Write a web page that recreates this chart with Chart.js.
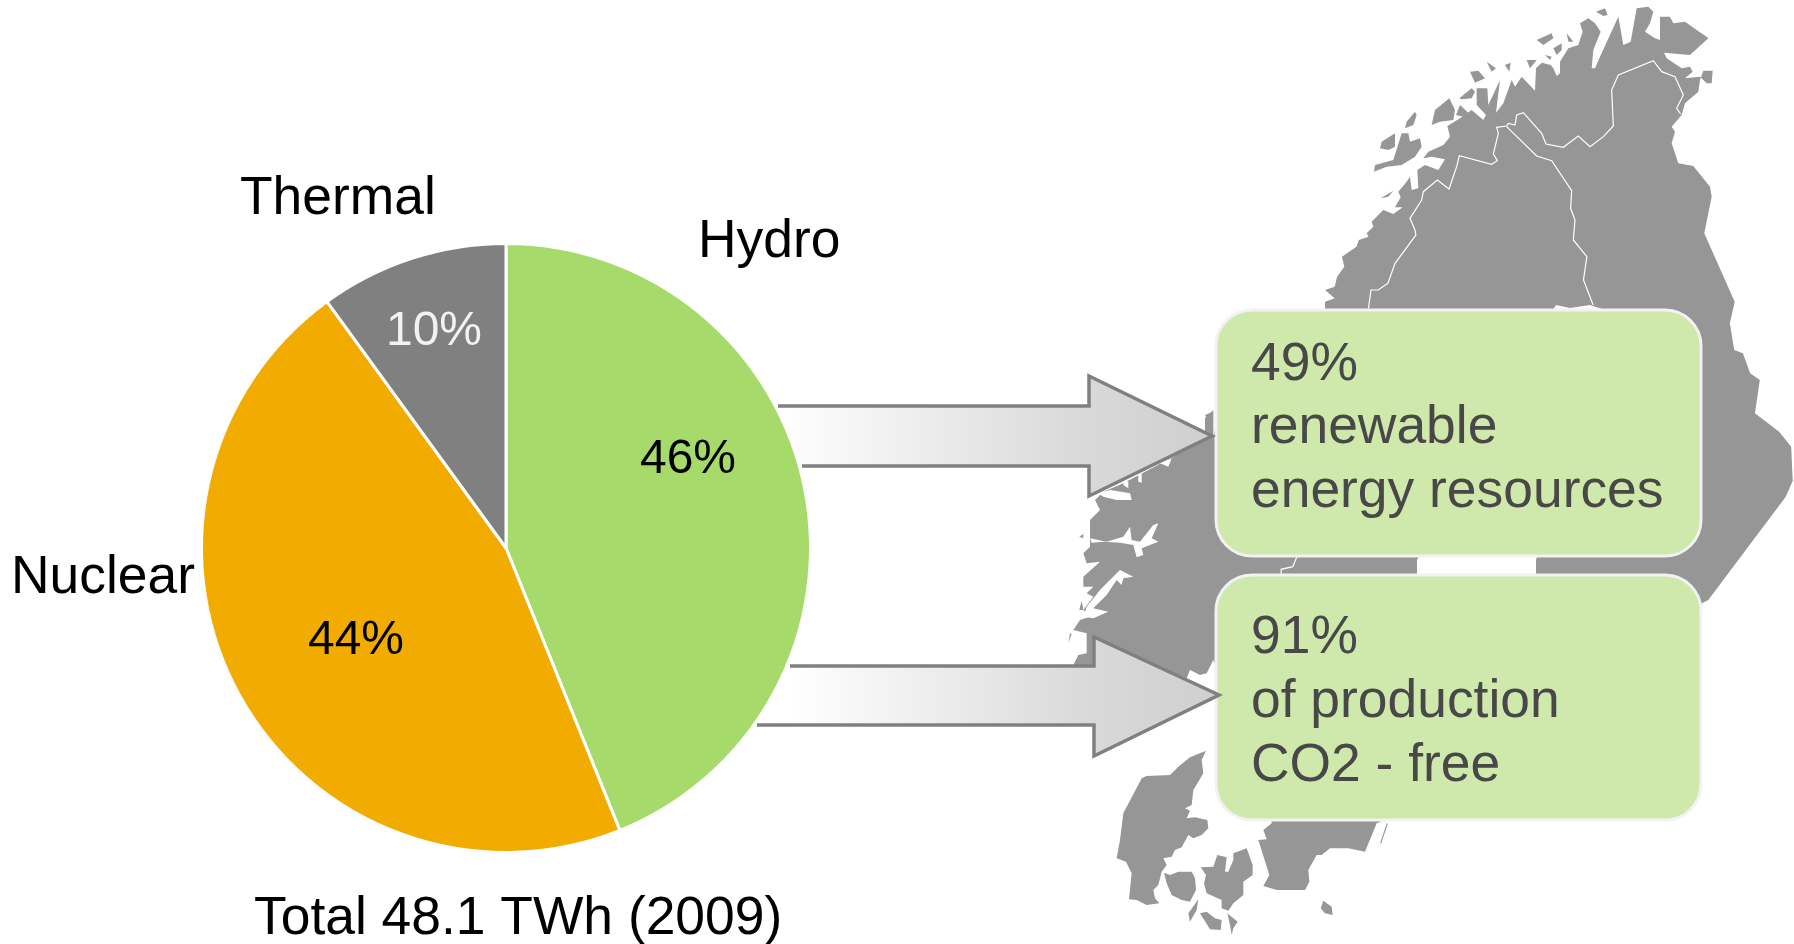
<!DOCTYPE html>
<html>
<head>
<meta charset="utf-8">
<title>Electricity production</title>
<script src="https://cdn.jsdelivr.net/npm/chart.js@4/dist/chart.umd.min.js"></script>
<style>
  html, body { margin: 0; padding: 0; background: #fff; overflow: hidden; }
  canvas { display: block; }
</style>
</head>
<body>
<canvas id="pieChart" width="1794" height="944"></canvas>
<script>
// Chart data
const categories = ['Hydro', 'Nuclear', 'Thermal'];
const sliceValues = [43.9, 46.1, 10]; // slice sizes as measured on the picture
const sliceLabels = ['46%', '44%', '10%']; // percentages as printed on the picture
const sliceColors = ['#a6da6b', '#f2ab00', '#808080'];
const totalLabel = 'Total 48.1 TWh (2009)';
const box1Lines = ['49%', 'renewable', 'energy resources'];
const box2Lines = ['91%', 'of production', 'CO2 - free'];

const FONT = '"Liberation Sans", Arial, sans-serif';

const east = pts => pts.map(([x, y]) => [1040 + x / 2.07, y / 3]);
const lower = pts => pts.map(([x, y]) => [1040 + x / 2.065, 470 + y / 3]);
const mid = pts => pts.map(([x, y]) => [740 + x / 3, 360 + y / 3]);
const top3 = pts => pts.map(([x, y]) => [1360 + x / 3, y / 3]);
const dk = pts => pts.map(([x, y]) => [1100 + x / 3, 740 + y / 3]);

// Scandinavia backdrop
const mainland = [
  ...top3([[20,700],[40,680],[35,665],[60,640],[70,630],[100,642],[128,622],[105,622],[122,592],[115,575],[140,545],[150,530],[155,570],
    [175,565],[172,510],[195,495],[235,510],[255,478],[215,470],[190,475],[205,455],[250,435],[270,410],[262,378],[300,355],[335,330],
    [370,360],[378,345],[350,315],[350,265],[382,265],[385,315],[420,240],[408,338],[430,310],[455,240],[465,260],[485,230],[525,272],
    [528,205],[545,188],[572,195],[580,205],[590,228],[600,220],[600,185],[625,145],[655,135],[668,95],[660,70],[685,55],[705,70],
    [722,95],[700,150],[695,205],[705,205],[720,170],[775,50],[790,135],[812,125],[830,25],[865,20],[880,35],[870,70],[855,95],[885,115],
    [900,120],[900,50],[930,50],[940,70],[975,65],[1010,90],[1040,110],[1045,115],[990,165],[912,158],[920,175],[965,205],[990,200],
    [998,215],[975,235],[1020,230],[1040,250],[1055,250],[1058,212],[1030,212],[1020,240],[1015,275],[975,310],[965,345],[935,380],
    [945,395],[935,430],[955,490],[1000,498],[1050,560],[1055,590]]),
  ...east([[1375,700],[1438,905],[1428,970],[1437,1050],[1455,1060],[1470,1120],[1490,1140],[1480,1240],[1530,1295],[1555,1340],[1558,1440]]),
  ...lower([[1555,30],[1540,80],[1380,390],[1340,420],[800,1000]]),
  ...dk([[830,250],[795,335],[745,325],[690,325],[665,345],[650,345],[625,390],[628,425],[615,450],[530,450],[490,438],[508,405],[475,300],
    [500,298],[490,270],[515,250],[515,230]]),
  ...lower([[400,900],[400,700]]),
  ...mid([[1420,900],[1400,940],[1380,945],[1350,930],[1340,955],[1100,860],[1060,920],[1000,915],[1015,885],[1040,880],
    [1040,820],[1000,810],[1020,780],[1050,770],[1030,750],[1060,710],[1040,700],[1060,680],[1030,680],[1030,650],[1080,605],
    [1040,610],[1030,580],[1050,560],[1050,480],[1080,450],[1065,420],[1090,395],[1150,370],[1300,290],[1395,230],[1395,175],[1420,150],[1420,230]]),
  ...east([[420,945],[590,945],[590,905],[610,895],[590,870],[610,860],[615,830],[630,800],[625,770],[655,740],[660,720],[680,710]])
];
const islands = [
  top3([[135,385],[140,365],[165,335],[170,345],[160,375]]),
  top3([[60,445],[65,425],[105,400],[105,440],[85,450]]),
  top3([[42,515],[45,495],[100,480],[125,400],[145,400],[150,425],[180,415],[185,440],[165,470],[125,495],[80,500]]),
  top3([[215,375],[225,330],[268,295],[285,330],[280,360],[240,365]]),
  top3([[298,295],[335,265],[345,275],[335,295],[305,298]]),
  top3([[288,345],[300,315],[335,348],[310,350]]),
  top3([[330,215],[355,212],[375,235],[345,248]]),
  top3([[380,185],[408,205],[395,215]]),
  top3([[435,195],[452,188],[448,215]]),
  top3([[500,180],[530,180],[510,205]]),
  top3([[530,120],[575,100],[580,115],[550,135]]),
  top3([[580,145],[605,130],[605,150],[590,165]]),
  top3([[555,165],[575,170],[570,180]]),
  top3([[620,100],[640,125],[625,125]]),
  top3([[708,35],[735,25],[743,45],[730,48]]),
  top3([[62,595],[100,572],[85,590]]),
  mid([[1395,165],[1418,155],[1418,175],[1400,175]]),
  mid([[1018,530],[1030,522],[1030,535]]),
  mid([[1018,750],[1025,722],[1030,750]]),
  mid([[985,848],[990,820],[995,822]]),
  // Denmark and Bornholm
  dk([[318,32],[305,60],[310,100],[280,150],[275,195],[255,205],[270,212],[260,235],[285,232],[322,240],[325,265],[305,285],[280,295],
    [265,285],[245,322],[225,330],[215,350],[190,355],[200,375],[185,395],[175,435],[160,450],[165,475],[178,490],[140,495],[110,480],
    [87,478],[95,400],[78,365],[50,355],[60,300],[70,220],[125,115],[140,108],[210,105],[235,80],[270,52]]),
  dk([[192,398],[210,405],[235,395],[275,395],[285,415],[288,450],[270,485],[245,480],[215,465],[200,430]]),
  dk([[302,382],[340,380],[352,345],[380,352],[375,395],[385,395],[400,360],[400,340],[440,325],[458,375],[458,405],[430,425],[430,465],
    [400,490],[385,512],[365,505],[365,480],[320,460],[312,430],[318,405]]),
  dk([[300,520],[320,515],[345,535],[365,540],[362,570],[330,568]]),
  dk([[382,520],[413,545],[400,565],[395,585],[390,555]]),
  dk([[295,478],[290,510],[270,545],[265,520]]),
  dk([[670,482],[695,500],[698,525],[675,520],[662,505]])
];
const fjords = [
  mid([[1050,535],[1100,545],[1150,530],[1170,500],[1175,540],[1200,545],[1240,495],[1255,490],[1235,535],[1255,545],[1205,565],
    [1210,585],[1190,592],[1180,555],[1140,548],[1090,545],[1055,548]]),
  mid([[1040,740],[1080,690],[1100,670],[1140,630],[1180,650],[1150,655],[1145,675],[1130,660],[1100,705],[1060,745],[1105,755],[1060,775],[1030,770]]),
  mid([[1075,400],[1110,390],[1170,400],[1175,420],[1130,420],[1090,410]]),
  mid([[1195,340],[1205,340],[1205,368],[1195,365]]),
  mid([[1150,360],[1165,365],[1165,385],[1150,375]]),
  mid([[1260,310],[1295,295],[1285,320]]),
  // Gulf of Bothnia, mostly hidden by the boxes
  [[1552,312],[1556,305],[1570,308],[1590,305],[1605,310],[1536,560],[1536,600],[1417,600],[1417,560]]
];
const borders = [
  [...east([[680,925],[685,870],[700,870],[720,850],[735,790],[778,705]]),
    ...top3([[165,690],[150,655],[185,600],[190,575],[232,540],[267,567],[290,500],[298,467],[395,493],[412,482],[400,462],[415,400],[410,382],
      [440,378],[445,370],[465,375],[470,345],[490,338],[545,400],[558,432],[610,442],[655,408],[690,440],[730,410],[760,378],[755,270],
      [775,225],[880,182],[905,215],[945,230],[970,285],[950,325],[962,342]])],
  [...top3([[440,380],[530,468],[575,482],[635,572],[632,625],[645,660],[640,720]]),
    ...east([[1132,770],[1125,840],[1145,915]])],
  lower([[530,262],[522,290],[498,298],[498,315]]),
  dk([[862,250],[842,310]])
];

const polygon = (ctx, pts) => {
  ctx.beginPath();
  pts.forEach(([x, y], i) => (i ? ctx.lineTo(x, y) : ctx.moveTo(x, y)));
  ctx.closePath();
};

const drawMap = ctx => {
  ctx.fillStyle = '#969696';
  polygon(ctx, mainland);
  ctx.fill();
  islands.forEach(s => { polygon(ctx, s); ctx.fill(); });
  ctx.fillStyle = '#fff';
  fjords.forEach(s => { polygon(ctx, s); ctx.fill(); });
  ctx.strokeStyle = '#fff';
  ctx.lineWidth = 1.2;
  borders.forEach(line => {
    ctx.beginPath();
    line.forEach(([x, y], i) => (i ? ctx.lineTo(x, y) : ctx.moveTo(x, y)));
    ctx.stroke();
  });
  // the stray line below the lower box is dark in the picture
  const stray = borders[3];
  ctx.strokeStyle = '#969696';
  ctx.beginPath();
  ctx.moveTo(stray[0][0], stray[0][1]);
  ctx.lineTo(stray[1][0], stray[1][1]);
  ctx.stroke();
};

const drawBox = (ctx, x, y, w, h) => {
  ctx.beginPath();
  ctx.roundRect(x, y, w, h, 36);
  ctx.fillStyle = '#cee9ab';
  ctx.fill();
  ctx.strokeStyle = '#f2f2f2';
  ctx.lineWidth = 3;
  ctx.stroke();
};

// Block arrow from the pie towards a box, open on its left side
const drawArrow = (ctx, a) => {
  const pts = [[a.topStart, a.top], [a.base, a.top], [a.base, a.headTop], [a.tip, a.midY], [a.base, a.headBottom], [a.base, a.bottom], [a.bottomStart, a.bottom]];
  const grad = ctx.createLinearGradient(a.topStart, 0, a.tip, 0);
  grad.addColorStop(0, '#ffffff');
  grad.addColorStop(0.7, '#d9d9d9');
  grad.addColorStop(1, '#cfcfcf');
  polygon(ctx, [[a.bottomStart - 40, a.bottom], [a.topStart - 60, a.top], ...pts.slice(1, -1), [a.bottomStart, a.bottom]]);
  ctx.fillStyle = grad;
  ctx.fill();
  ctx.beginPath();
  pts.forEach(([x, y], i) => (i ? ctx.lineTo(x, y) : ctx.moveTo(x, y)));
  ctx.strokeStyle = '#808080';
  ctx.lineWidth = 3.5;
  ctx.lineJoin = 'miter';
  ctx.stroke();
};

const backdropPlugin = {
  id: 'backdrop',
  beforeDatasetsDraw(chart) {
    const ctx = chart.ctx;
    ctx.save();
    drawMap(ctx);
    drawBox(ctx, 1216, 310, 485, 246);
    drawBox(ctx, 1216, 575, 485, 245);
    drawArrow(ctx, { topStart: 778, bottomStart: 802, top: 406, bottom: 466, base: 1089, headTop: 376, headBottom: 496, tip: 1212, midY: 436 });
    drawArrow(ctx, { topStart: 790, bottomStart: 757, top: 666, bottom: 725, base: 1094, headTop: 637, headBottom: 756, tip: 1219, midY: 695 });
    ctx.restore();
  }
};

const textPlugin = {
  id: 'texts',
  afterDraw(chart) {
    const ctx = chart.ctx;
    ctx.save();
    ctx.textBaseline = 'alphabetic';
    ctx.textAlign = 'left';

    // Category names around the pie
    ctx.font = `53.4px ${FONT}`;
    ctx.fillStyle = '#000';
    ctx.fillText(categories[0], 698, 257);
    ctx.fillText(categories[1], 11, 593);
    ctx.fillText(categories[2], 240, 214);
    ctx.fillText(totalLabel, 254, 934);

    // Percentages inside the slices
    ctx.font = `48px ${FONT}`;
    ctx.textAlign = 'center';
    ctx.fillStyle = '#000';
    ctx.fillText(sliceLabels[0], 688, 473);
    ctx.fillText(sliceLabels[1], 356, 654);
    ctx.fillStyle = '#f2f2f2';
    ctx.fillText(sliceLabels[2], 434, 345);

    // Box texts
    ctx.font = `53.4px ${FONT}`;
    ctx.textAlign = 'left';
    ctx.fillStyle = '#484848';
    [380, 443, 507].forEach((y, i) => ctx.fillText(box1Lines[i], 1251, y));
    [653, 717, 781].forEach((y, i) => ctx.fillText(box2Lines[i], 1251, y));
    ctx.restore();
  }
};

new Chart(document.getElementById('pieChart').getContext('2d'), {
  type: 'pie',
  data: {
    labels: categories,
    datasets: [{
      data: sliceValues,
      backgroundColor: sliceColors,
      borderColor: '#ffffff',
      borderWidth: 3
    }]
  },
  options: {
    responsive: false,
    animation: false,
    layout: { padding: { left: 200, top: 242, right: 982, bottom: 90 } },
    plugins: {
      legend: { display: false },
      tooltip: { enabled: false }
    }
  },
  plugins: [backdropPlugin, textPlugin]
});
</script>
</body>
</html>
